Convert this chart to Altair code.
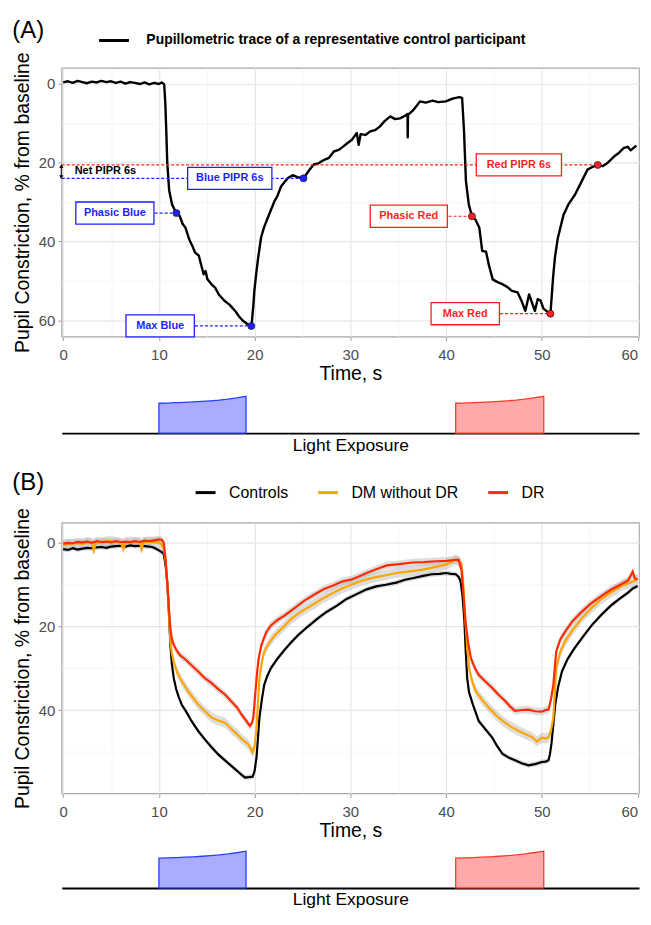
import altair as alt
import pandas as pd

FONT = "Liberation Sans"
BLUE = "#1f1fff"
RED = "#ff1f1f"
GMAJ = "#e6e6e6"
GMIN = "#f2f2f2"
TICK = "#a6a6a6"
LAB = "#4d4d4d"
BORDER = "#a6a6a6"

# ---------------- Panel A: representative control trace ----------------
a_time = [0.0, 0.5, 1.0, 1.5, 2.0, 2.5, 3.0, 3.5, 4.0, 4.5, 5.0, 5.5, 6.0, 6.5, 7.0, 7.5, 8.0, 8.5, 9.0, 9.5, 10.0, 10.3, 10.55,
          10.67, 10.77, 10.87, 11.07, 11.37, 11.8, 12.17, 12.47, 12.77, 13.17, 13.47, 13.77, 14.17, 14.37, 14.67, 14.87, 15.07,
          15.47, 15.87, 16.27, 16.87, 17.37, 17.97, 18.37, 18.77, 19.17, 19.47, 19.67,
          19.87, 19.97, 20.17, 20.37, 20.67, 20.97, 21.37, 22.07, 22.37, 22.77, 23.17, 23.47, 23.97, 24.47, 25.1, 25.67, 26.17,
          26.67, 27.27, 27.77, 28.27, 28.77, 29.27, 29.67, 30.17, 30.67, 30.87, 31.07, 31.57, 32.07, 32.57, 33.07, 33.57, 34.17,
          34.67, 35.17, 35.67, 35.97, 35.99, 36.02, 36.57, 36.87, 37.27, 37.87, 38.57, 39.17, 39.97, 40.67, 41.37, 41.67,
          41.87, 42.07, 42.37, 42.7, 43.07, 43.47, 43.77, 44.17, 44.47, 44.87, 45.37, 45.87, 46.37, 46.87, 47.47, 47.87, 48.27,
          48.67, 48.97, 49.27, 49.57, 49.87, 50.17, 50.47, 50.9,
          51.17, 51.37, 51.67, 52.27, 52.77, 53.47, 54.17, 54.77, 55.37, 55.84, 56.37, 56.87, 57.57, 58.07, 58.57, 58.97, 59.27, 59.87]
a_pupil = [-0.3, -0.6, -0.2, -0.7, -0.4, -0.1, -0.5, -0.3, -0.7, -0.4, -0.6, -0.2, -0.5, 0.0, -0.4, -0.2, 0.1, -0.3, 0.2, -0.2, 0.1, -0.3, 0.2,
           5, 12, 20, 27, 30.6, 32.8, 33.5, 35.5, 36.5, 39.5, 41, 42.8, 43.6, 45.5, 48.3, 47.5, 49.6,
           50.8, 51.7, 53.5, 55.1, 56.0, 57.6, 59.0, 60.1, 60.8, 61.4, 61.5,
           56, 52.5, 48, 44.1, 39.0, 36.5, 34.0, 29.8, 28.5, 26.0, 24.8, 23.9, 23.2, 23.7, 24.0, 22.0, 20.5,
           20.2, 19.3, 18.8, 17.2, 16.8, 15.9, 15.1, 14.2, 12.5, 15.5, 12.8, 13.0, 12.1, 11.8, 10.9, 9.5, 8.3,
           9.0, 8.8, 8.2, 7.7, 13.6, 7.9, 6.7, 5.8, 4.5, 4.8, 4.3, 4.7, 4.5, 3.8, 3.4, 3.6,
           12, 24.7, 30.6, 33.6, 34.5, 36.5, 42.4, 42.6, 46, 49.6, 50.3, 50.8, 51.5, 52.5, 52.9, 55, 57.6,
           53.4, 55.5, 57.6, 54.6, 55, 57.0, 57.6, 58.3,
           49.2, 44, 39.1, 33.2, 30.6, 28.1, 24.7, 21.8, 21.0, 20.6, 20.9, 20.1, 18.4, 17.5, 16.3, 16.0, 16.9, 15.7]
A_SERIES = "Pupillometric trace of a representative control participant"

# annotations (label, colour group, marker time, marker value, label centre time, box half-width, dashed line start)
ann_label = ["Blue PIPR 6s", "Phasic Blue", "Max Blue", "Red PIPR 6s", "Phasic Red", "Max Red"]
ann_group = ["blue", "blue", "blue", "red", "red", "red"]
ann_point_t = [25.1, 11.83, 19.65, 55.84, 42.7, 50.9]
ann_point_v = [24.0, 32.8, 61.4, 20.6, 33.6, 58.3]
ann_label_t = [17.4, 5.4, 10.13, 47.6, 36.1, 42.0]
ann_box_hw = [4.4, 4.08, 3.57, 4.45, 4.03, 3.57]
ann_line_start = [-0.15, 5.4, 10.13, -0.15, 36.1, 42.0]
BOX_HH = 2.8
net_t = [-0.2]
net_top = [20.9]
net_bottom = [23.7]
net_text = ["Net PIPR 6s"]
net_text_t = [1.2]
net_text_v = [22.2]

# ---------------- Panel B: group means ----------------
ctrl_t = [
    0, 0.5, 1, 1.5, 2, 2.5, 3, 3.5, 4, 4.5,
    5, 5.5, 6, 6.5, 7, 7.5, 8, 8.5, 9, 9.3,
    9.7, 10.0, 10.3, 10.5, 10.7, 10.9, 11.05, 11.2, 11.35, 11.55,
    11.8, 12.1, 12.4, 12.8, 13.4, 14.1, 14.8, 15.5, 16.2, 16.9,
    17.6, 18.3, 18.7, 19.0, 19.4, 19.8, 20.0, 20.2, 20.35, 20.5,
    20.75, 21.0, 21.3, 21.7, 22.4, 23.1, 23.8, 24.5, 25.5, 26.5,
    27.5, 28.6, 29.6, 30.6, 31.7, 32.7, 33.7, 34.8, 35.7, 36.6,
    37.6, 38.5, 39.3, 40.0, 40.5, 41.0, 41.3, 41.5, 41.7, 41.9,
    42.05, 42.2, 42.4, 42.8, 43.4, 44.1, 44.8, 45.3, 45.9, 46.5,
    47.2, 47.9, 48.6, 49.3, 50.0, 50.4, 50.7, 50.85, 51.0, 51.2,
    51.4, 51.7, 52.1, 52.7, 53.4, 54.3, 55.2, 56.2, 57.2, 58.1,
    59.0, 59.5, 60.0]
ctrl_v = [
    1.6, 1.8, 1.4, 1.7, 1.5, 1.3, 1.4, 1.2, 1.1, 1.3,
    1.0, 0.9, 0.8, 1.0, 0.7, 0.9, 0.8, 0.9, 1.0, 1.1,
    1.5, 1.9, 2.3, 2.8, 5.5, 10.4, 17.0, 24.5, 29.0, 32.4,
    35.0, 37.1, 38.8, 40.2, 42.6, 45.0, 47.0, 48.9, 50.6, 52.0,
    53.4, 54.8, 55.6, 56.1, 56.0, 55.9, 54.5, 51.2, 46.5, 41.8,
    37.5, 34.0, 32.0, 30.0, 27.7, 25.7, 23.9, 22.2, 20.2, 18.3,
    16.6, 15.1, 13.5, 12.4, 11.2, 10.5, 10.1, 9.6, 8.9, 8.5,
    8.0, 7.6, 7.5, 7.3, 7.5, 7.6, 8.2, 9.2, 12.5, 18.3,
    26.0, 32.4, 35.8, 38.7, 42.6, 44.6, 46.5, 48.5, 50.5, 51.3,
    52.0, 52.7, 53.2, 52.9, 52.4, 52.3, 52.0, 50.5, 48.1, 43.5,
    38.7, 34.5, 30.8, 27.8, 25.3, 22.5, 19.8, 17.3, 15.1, 13.5,
    12.0, 11.0, 10.4]
dm_t = [
    0, 0.5, 1, 1.5, 2, 2.5, 3, 3.2, 3.4, 4,
    4.5, 5, 5.5, 6, 6.3, 6.5, 7, 7.5, 8, 8.2,
    8.4, 9, 9.5, 10.0, 10.3, 10.5, 10.7, 10.9, 11.05, 11.2,
    11.35, 11.55, 11.9, 12.4, 13.2, 14.1, 14.8, 15.5, 16.2, 16.9,
    17.6, 18.3, 18.8, 19.3, 19.6, 19.8, 20.0, 20.2, 20.35, 20.5,
    20.75, 21.0, 21.5, 22.1, 23.0, 23.8, 24.8, 25.9, 26.9, 27.9,
    29.0, 30.2, 31.3, 32.4, 33.6, 34.8, 36.2, 37.6, 38.8, 40.0,
    40.6, 41.0, 41.3, 41.6, 41.8, 42.0, 42.2, 42.4, 42.7, 43.1,
    43.8, 44.5, 45.2, 45.9, 46.7, 47.6, 48.3, 49.0, 49.5, 50.0,
    50.4, 50.7, 50.95, 51.2, 51.35, 51.5, 51.9, 52.4, 53.2, 54.1,
    55.1, 56.2, 57.2, 58.3, 59.2, 60.0]
dm_v = [
    0.6, 0.4, 0.3, 0.2, 0.4, 0.0, 0.1, 1.9, 0.2, 0.0,
    -0.2, -0.3, -0.1, 0.1, 1.5, 0.0, -0.2, 0.0, -0.1, 1.6,
    -0.1, -0.2, 0.0, 0.0, 0.5, 1.5, 4.5, 10.4, 17.5, 23.5,
    26.5, 28.5, 31.0, 33.2, 36.0, 38.7, 40.3, 41.8, 42.5, 43.0,
    44.6, 46.1, 47.2, 48.1, 49.3, 50.1, 48.5, 44.2, 38.0, 32.4,
    28.5, 26.1, 24.0, 22.2, 20.2, 18.3, 16.6, 15.1, 13.7, 12.4,
    11.1, 10.0, 9.1, 8.4, 7.9, 7.3, 6.9, 6.5, 5.9, 5.3,
    4.6, 4.1, 4.5, 4.9, 10.0, 18.3, 25.0, 30.0, 33.0, 35.5,
    37.7, 39.5, 41.2, 42.6, 43.9, 45.0, 45.8, 46.5, 47.5, 46.6,
    46.8, 46.5, 45.0, 41.8, 36.0, 30.0, 26.3, 23.7, 21.0, 18.3,
    15.9, 13.5, 12.0, 10.4, 9.6, 8.8]
dr_t = [
    0, 0.5, 1, 1.5, 2, 2.5, 3, 3.5, 4, 4.5,
    5, 5.5, 6, 6.5, 7, 7.5, 8, 8.5, 9, 9.5,
    10.0, 10.3, 10.5, 10.7, 10.9, 11.05, 11.2, 11.35, 11.55, 11.85,
    12.2, 12.8, 13.4, 14.1, 14.8, 15.5, 16.2, 16.9, 17.6, 18.2,
    18.6, 19.1, 19.5, 19.7, 19.85, 20.0, 20.2, 20.4, 20.7, 21.2,
    21.7, 22.4, 23.1, 24.1, 25.2, 26.2, 27.2, 28.2, 29.2, 30.2,
    31.0, 31.7, 32.7, 33.8, 35.1, 36.5, 37.7, 38.9, 40.1, 40.8,
    41.3, 41.6, 41.8, 42.0, 42.3, 42.6, 43.0, 43.4, 44.1, 44.8,
    45.5, 46.2, 46.7, 47.2, 47.9, 48.6, 49.3, 50.0, 50.4, 50.7,
    50.95, 51.2, 51.35, 51.5, 51.9, 52.4, 53.2, 54.1, 55.1, 56.2,
    57.2, 58.3, 59.0, 59.5, 59.7, 60.0]
dr_v = [
    0.3, 0.1, 0.2, -0.1, 0.0, -0.2, 0.1, -0.3, -0.1, -0.2,
    0.0, -0.3, -0.1, -0.2, 0.0, -0.3, -0.1, -0.4, -0.3, -0.5,
    -0.7, -0.6, 0.0, 4.0, 10.4, 16.0, 20.6, 23.0, 24.5, 25.8,
    26.9, 28.0, 29.3, 30.8, 32.4, 33.6, 35.0, 36.3, 38.0, 39.5,
    41.0, 42.5, 43.8, 43.2, 42.0, 38.0, 32.4, 28.0, 24.5, 21.5,
    19.8, 18.5, 17.5, 15.8, 13.9, 12.5, 11.2, 10.3, 9.3, 8.8,
    8.0, 7.3, 6.4, 5.5, 5.2, 4.8, 4.7, 4.5, 4.4, 4.2,
    4.1, 6.5, 12.0, 18.3, 24.0, 27.7, 30.0, 31.6, 33.2, 34.7,
    36.4, 37.9, 39.2, 40.2, 40.0, 39.9, 40.3, 40.4, 40.0, 39.9,
    37.5, 34.0, 30.0, 26.1, 23.3, 21.4, 18.8, 16.7, 14.6, 12.8,
    11.3, 10.0, 9.1, 7.0, 8.6, 8.8]
groups = ["Controls", "DM without DR", "DR"]
group_colors = ["#000000", "#FFA500", "#FF2A00"]
group_band_halfwidth = [0.6, 1.2, 0.9]

# ---------------- light stimulus profile ----------------
light_blue_t = [10.0, 10.9, 11.8, 12.7, 13.6, 14.5, 15.4, 16.3, 17.2, 18.1, 19.1]
light_red_t = [41.0, 41.9, 42.8, 43.7, 44.6, 45.5, 46.4, 47.3, 48.2, 49.1, 50.2]
light_level = [1.000, 1.008, 1.018, 1.030, 1.045, 1.062, 1.083, 1.108, 1.140, 1.180, 1.233]

# ---------------- helpers ----------------
W = 580
HA = 270
HB = 272
HL_A = 46
HL_B = 44
XDOM = [-0.15, 60.15]
x_scale = alt.Scale(domain=XDOM, nice=False, zero=False)
yA_scale = alt.Scale(domain=[-4.0, 64.1], reverse=True, nice=False, zero=False)
yB_scale = alt.Scale(domain=[-4.7, 59.9], reverse=True, nice=False, zero=False)


def x_axis():
    return alt.Axis(values=list(range(0, 61, 5)), title="Time, s",
                    labelExpr="datum.value % 10 === 0 ? datum.label : ''",
                    labelAlign=alt.condition("datum.value === 60", alt.value("right"), alt.value("center")),
                    gridColor=alt.condition("datum.value % 10 === 0", alt.value(GMAJ), alt.value(GMIN)),
                    gridWidth=alt.condition("datum.value % 10 === 0", alt.value(1.2), alt.value(0.7)),
                    tickOpacity=alt.condition("datum.value % 10 === 0", alt.value(1), alt.value(0)),
                    tickColor=TICK, tickSize=4, tickWidth=1.1, domain=False,
                    labelFontSize=15, labelColor=LAB, labelPadding=7, labelOverlap=False, labelFlush=False,
                    titleFontSize=19.5, titleFontWeight="normal", titleColor="black", titlePadding=2)


def y_axis(top):
    return alt.Axis(values=list(range(0, top + 1, 10)), title="Pupil Constriction, % from baseline",
                    labelExpr="datum.value % 20 === 0 ? datum.label : ''",
                    gridColor=alt.condition("datum.value % 20 === 0", alt.value(GMAJ), alt.value(GMIN)),
                    gridWidth=alt.condition("datum.value % 20 === 0", alt.value(1.2), alt.value(0.7)),
                    tickOpacity=alt.condition("datum.value % 20 === 0", alt.value(1), alt.value(0)),
                    tickColor=TICK, tickSize=4, tickWidth=1.1, domain=False,
                    labelFontSize=15, labelColor=LAB, labelPadding=3, labelOverlap=False,
                    titleFontSize=19.5, titleFontWeight="normal", titleColor="black", titlePadding=6)


def XA(field="t"):
    return alt.X(f"{field}:Q", scale=x_scale, axis=x_axis())


def YA(field="v"):
    return alt.Y(f"{field}:Q", scale=yA_scale, axis=y_axis(60))


def YB(field="v"):
    return alt.Y(f"{field}:Q", scale=yB_scale, axis=y_axis(50))


grp_stroke = alt.Stroke("grp:N", scale=alt.Scale(domain=["blue", "red"], range=[BLUE, RED]), legend=None)
grp_fill = alt.Fill("grp:N", scale=alt.Scale(domain=["blue", "red"], range=[BLUE, RED]), legend=None)

# ---------------- Panel A ----------------
trace_df = pd.DataFrame({"t": a_time, "v": a_pupil, "series": A_SERIES})
ann = pd.DataFrame({"label": ann_label, "grp": ann_group, "pt": ann_point_t, "pv": ann_point_v,
                    "lt": ann_label_t, "hw": ann_box_hw, "ls": ann_line_start})
rules_df = pd.DataFrame({"t": ann["ls"], "t2": ann["pt"], "v": ann["pv"], "grp": ann["grp"]})
box_df = pd.DataFrame({"t": ann["lt"] - ann["hw"], "t2": ann["lt"] + ann["hw"],
                       "v": ann["pv"] - BOX_HH, "v2": ann["pv"] + BOX_HH, "grp": ann["grp"]})
text_df = pd.DataFrame({"t": ann["lt"], "v": ann["pv"], "label": ann["label"], "grp": ann["grp"]})
pts_df = pd.DataFrame({"t": ann["pt"], "v": ann["pv"], "grp": ann["grp"]})
net_rule_df = pd.DataFrame({"t": net_t, "v": net_top, "v2": net_bottom})
net_up_df = pd.DataFrame({"t": net_t, "v": net_top})
net_down_df = pd.DataFrame({"t": net_t, "v": net_bottom})
net_text_df = pd.DataFrame({"t": net_text_t, "v": net_text_v, "label": net_text})

legendA = alt.Legend(title=None, orient="none", legendX=36, legendY=-44, direction="horizontal",
                     symbolType="stroke", symbolStrokeWidth=3, symbolSize=900,
                     labelFontSize=14, labelFontWeight="bold", labelColor="black", labelFont=FONT,
                     labelOffset=16, labelLimit=0, padding=0)

a_trace = alt.Chart(trace_df).mark_line(strokeWidth=2.4, strokeJoin="round").encode(
    x=XA(), y=YA(),
    color=alt.Color("series:N", scale=alt.Scale(domain=[A_SERIES], range=["black"]), legend=legendA))
a_rules = alt.Chart(rules_df).mark_rule(strokeDash=[3, 2], strokeWidth=1.2).encode(
    x=XA(), x2="t2:Q", y=YA(), stroke=grp_stroke)
a_boxes = alt.Chart(box_df).mark_rect(fill="white", strokeWidth=1.3).encode(
    x=XA(), x2="t2:Q", y=YA(), y2="v2:Q", stroke=grp_stroke)
a_text = alt.Chart(text_df).mark_text(font=FONT, fontSize=11, fontWeight="bold", baseline="middle", align="center").encode(
    x=XA(), y=YA(), text="label:N", fill=grp_fill)
a_pts = alt.Chart(pts_df).mark_circle(size=50, opacity=1, stroke="#1a1a1a", strokeWidth=0.7).encode(
    x=XA(), y=YA(), fill=grp_fill)
a_net_rule = alt.Chart(net_rule_df).mark_rule(color="black", strokeWidth=1).encode(x=XA(), y=YA(), y2="v2:Q")
a_net_up = alt.Chart(net_up_df).mark_point(shape="triangle-up", filled=True, size=18, color="black", opacity=1).encode(x=XA(), y=YA())
a_net_down = alt.Chart(net_down_df).mark_point(shape="triangle-down", filled=True, size=18, color="black", opacity=1).encode(x=XA(), y=YA())
a_net_text = alt.Chart(net_text_df).mark_text(font=FONT, fontSize=11, fontWeight="bold", align="left", baseline="middle", color="black").encode(
    x=XA(), y=YA(), text="label:N")

panelA = alt.layer(a_trace, a_rules, a_boxes, a_text, a_pts, a_net_rule, a_net_up, a_net_down, a_net_text).properties(
    width=W, height=HA,
    title=alt.TitleParams("(A)", anchor="start", frame="bounds", fontSize=24, fontWeight="normal", font=FONT, color="black", offset=-19),
    view=alt.ViewBackground(stroke=BORDER, strokeWidth=1.3))

# ---------------- Panel B ----------------
frames = []
for g, tt, vv, hw in zip(groups, [ctrl_t, dm_t, dr_t], [ctrl_v, dm_v, dr_v], group_band_halfwidth):
    d = pd.DataFrame({"t": tt, "v": vv, "group": g})
    d["lo"] = d["v"] - hw
    d["hi"] = d["v"] + hw
    frames.append(d)
b_df = pd.concat(frames, ignore_index=True)

legendB = alt.Legend(title=None, orient="none", legendX=133, legendY=-42, direction="horizontal",
                     symbolType="stroke", symbolStrokeWidth=3, symbolSize=400,
                     labelFontSize=16, labelColor="black", labelFont=FONT, labelOffset=12,
                     columnPadding=23, labelLimit=0, padding=0)

b_band = alt.Chart(b_df).mark_area(color="#b3b3b3", opacity=0.45).encode(
    x=XA(), y=alt.Y("lo:Q", scale=yB_scale, axis=y_axis(50)), y2="hi:Q", detail="group:N")
b_lines = alt.Chart(b_df).mark_line(strokeWidth=2.2).encode(
    x=XA(), y=YB(),
    color=alt.Color("group:N", scale=alt.Scale(domain=groups, range=group_colors), legend=legendB),
    order=alt.Order("t:Q"))

panelB = alt.layer(b_band, b_lines).properties(
    width=W, height=HB,
    title=alt.TitleParams("(B)", anchor="start", frame="bounds", fontSize=24, fontWeight="normal", font=FONT, color="black", offset=-14),
    view=alt.ViewBackground(stroke=BORDER, strokeWidth=1.3))


# ---------------- light exposure strips ----------------
def light_chart(h):
    axis = alt.Axis(title="Light Exposure", labels=False, ticks=False, grid=False, domain=True,
                    domainColor="black", domainWidth=2, titleFontSize=17.5, titleFontWeight="normal",
                    titleColor="black", titleFont=FONT, titlePadding=3)
    ys = alt.Scale(domain=[0, h / 30.0], nice=False, zero=True)
    blue = alt.Chart(pd.DataFrame({"t": light_blue_t, "v": light_level})).mark_area(
        fill="#a9acff", stroke="#2a3fff", strokeWidth=1.3).encode(
        x=alt.X("t:Q", scale=x_scale, axis=axis), y=alt.Y("v:Q", scale=ys, axis=None))
    red = alt.Chart(pd.DataFrame({"t": light_red_t, "v": light_level})).mark_area(
        fill="#ffaaaa", stroke="#ff3a2a", strokeWidth=1.3).encode(
        x=alt.X("t:Q", scale=x_scale, axis=axis), y=alt.Y("v:Q", scale=ys, axis=None))
    return alt.layer(blue, red).properties(width=W, height=h, view=alt.ViewBackground(stroke="transparent"))


topA = alt.vconcat(panelA, light_chart(HL_A), spacing=2).resolve_scale(x="independent", y="independent", color="independent")
topB = alt.vconcat(panelB, light_chart(HL_B), spacing=2).resolve_scale(x="independent", y="independent", color="independent")

chart = alt.vconcat(topA, topB, spacing=16).resolve_scale(
    x="independent", y="independent", color="independent", fill="independent", stroke="independent"
).resolve_legend(color="independent").properties(
    padding={"left": 3, "top": 8, "right": 0, "bottom": 0}
).configure(font=FONT).configure_axis(labelFont=FONT, titleFont=FONT).configure_legend(labelFont=FONT).configure_title(font=FONT)

chart.save("out.html", embed_options={"renderer": "svg", "actions": False})
